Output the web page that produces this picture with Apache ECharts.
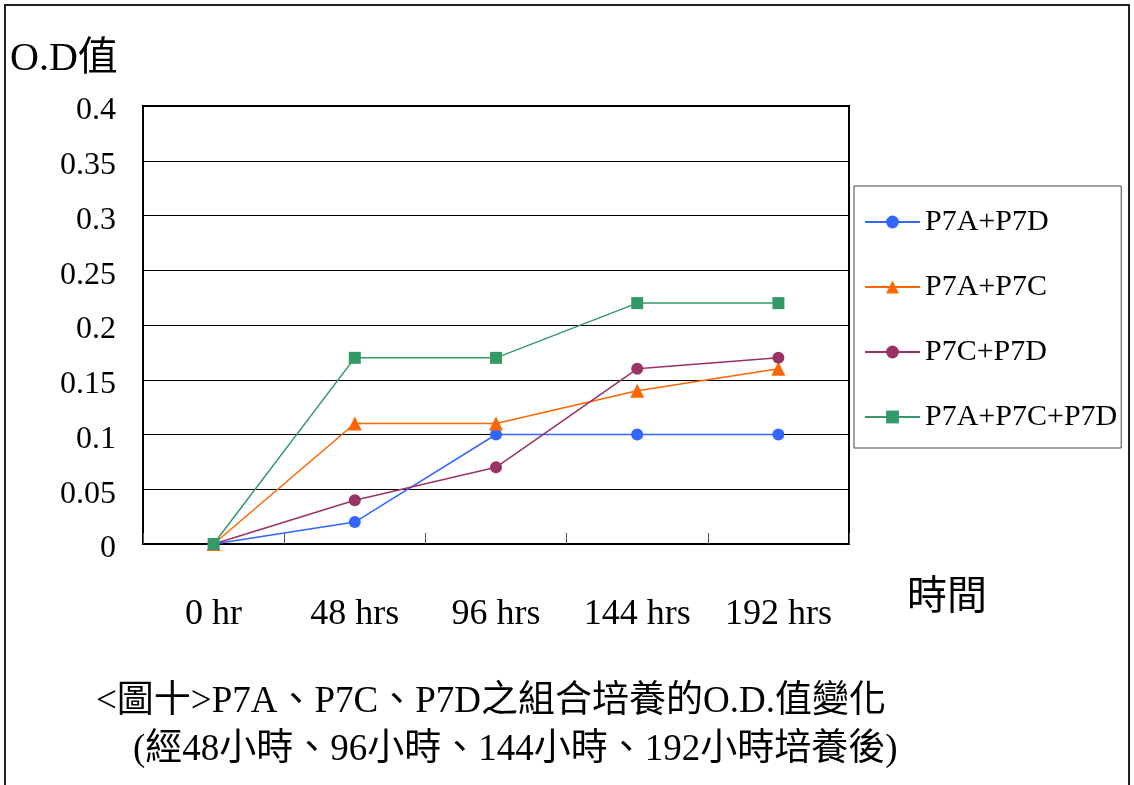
<!DOCTYPE html>
<html>
<head>
<meta charset="utf-8">
<script src="https://cdn.jsdelivr.net/npm/echarts@6/dist/echarts.min.js"></script>
<style>
  html, body { margin: 0; padding: 0; background: #fff; }
  #chart { width: 1134px; height: 785px; }
</style>
</head>
<body>
<div id="chart"></div>
<script>
const categories = ['0 hr', '48 hrs', '96 hrs', '144 hrs', '192 hrs'];
const seriesNames = ['P7A+P7D', 'P7A+P7C', 'P7C+P7D', 'P7A+P7C+P7D'];
const p7aP7d = [0, 0.02, 0.1, 0.1, 0.1];
const p7aP7c = [0, 0.11, 0.11, 0.14, 0.16];
const p7cP7d = [0, 0.04, 0.07, 0.16, 0.17];
const p7aP7cP7d = [0, 0.17, 0.17, 0.22, 0.22];

const serif = '"Liberation Serif", "Noto Sans CJK TC", serif';
const colors = ['#3366FF', '#FF6600', '#993366', '#339966'];
const symbols = ['circle', 'triangle', 'circle', 'rect'];
const values = [p7aP7d, p7aP7c, p7cP7d, p7aP7cP7d];

const chart = echarts.init(document.getElementById('chart'));

const option = {
  animation: false,
  backgroundColor: '#fff',
  color: colors,
  grid: {
    left: 143,
    top: 106,
    width: 706,
    height: 438,
    show: true,
    borderColor: '#000',
    borderWidth: 2,
  },
  legend: {
    orient: 'vertical',
    left: 854,
    top: 186,
    padding: [21, 4, 16, 10],
    borderColor: '#444',
    borderWidth: 1,
    itemWidth: 55,
    itemHeight: 16,
    itemGap: 35,
    textStyle: {
      fontFamily: serif,
      fontSize: 30,
      color: '#000',
      lineHeight: 30,
    },
    data: seriesNames,
  },
  xAxis: {
    type: 'category',
    data: categories,
    boundaryGap: true,
    axisLine: { lineStyle: { color: '#000', width: 2 } },
    axisTick: { show: true, inside: true, length: 11, lineStyle: { color: '#555', width: 1 } },
    axisLabel: {
      margin: 53,
      fontFamily: serif,
      fontSize: 36,
      color: '#000',
    },
  },
  yAxis: {
    type: 'value',
    min: 0,
    max: 0.4,
    interval: 0.05,
    axisLine: { show: true, lineStyle: { color: '#000', width: 2 } },
    axisTick: { show: false },
    splitLine: { lineStyle: { color: '#000', width: 1 } },
    axisLabel: {
      margin: 27,
      verticalAlign: 'top',
      lineHeight: 10,
      fontFamily: serif,
      fontSize: 32,
      color: '#000',
    },
  },
  series: seriesNames.map((name, i) => ({
    name: name,
    type: 'line',
    data: values[i],
    symbol: symbols[i],
    symbolSize: symbols[i] === 'triangle' ? 14 : 12,
    lineStyle: { width: 1.5, color: colors[i] },
    itemStyle: { color: colors[i] },
  })),
  graphic: [
    {
      type: 'rect',
      shape: { x: 5, y: 5, width: 1124, height: 820 },
      style: { fill: 'none', stroke: '#222', lineWidth: 2 },
      silent: true,
    },
    {
      type: 'text',
      left: 10,
      top: 40,
      style: { text: 'O.D值', font: '40px ' + serif, fill: '#000' },
    },
    {
      type: 'text',
      left: 907,
      top: 578,
      style: { text: '時間', font: '40px ' + serif, fill: '#000' },
    },
    {
      type: 'text',
      left: 96,
      top: 684,
      style: { text: '<圖十>P7A、P7C、P7D之組合培養的O.D.值變化', font: '37px ' + serif, fill: '#000' },
    },
    {
      type: 'text',
      left: 133,
      top: 732,
      style: { text: '(經48小時、96小時、144小時、192小時培養後)', font: '37px ' + serif, fill: '#000' },
    },
  ],
};

chart.setOption(option);
</script>
</body>
</html>
